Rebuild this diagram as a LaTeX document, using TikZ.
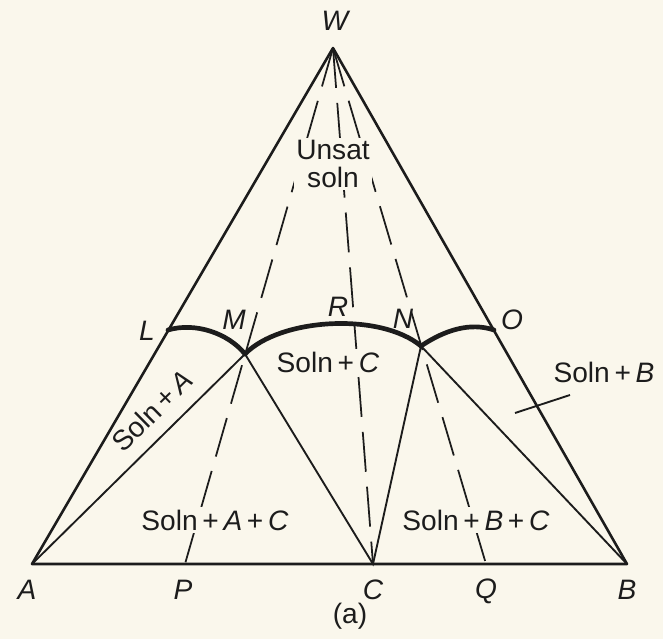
\documentclass[tikz,border=0pt]{standalone}
\usepackage{fontspec}
\setmainfont{Liberation Sans}
\usetikzlibrary{positioning}
\definecolor{paper}{RGB}{250,247,236}
\definecolor{ink}{RGB}{28,28,28}

\begin{document}
\begin{tikzpicture}[
    x=0.03cm, y=-0.03cm,
    color=ink,
    % Outline of the triangle
    side/.style={line width=2.2pt, line join=round},
    % Thin boundary lines of the fields
    edge/.style={line width=1.6pt},
    % Saturation curves (heavy)
    satcurve/.style={line width=4pt, line cap=round},
    % Dashed tie lines running to W
    tie/.style={line width=1.5pt, dash pattern=on 1.2cm off 0.45cm},
    % Point labels (italic letters)
    pt/.style={font=\fontsize{24}{28}\selectfont\itshape, inner sep=1pt},
    % Field labels, blanking the dashes below them
    field/.style={font=\fontsize{24}{28}\selectfont, fill=paper, inner sep=2pt, align=center}
]

    % --- Paper ---
    \fill[paper] (0,0) rectangle (663,639);
    \useasboundingbox (0,0) rectangle (663,639);

    % --- Corners and points ---
    \coordinate (W) at (333,48);
    \coordinate (A) at (32,564);
    \coordinate (B) at (627,564);
    \coordinate (C) at (373,564);
    \coordinate (P) at (185,564);
    \coordinate (Q) at (486,564);
    \coordinate (L) at (168,330);
    \coordinate (M) at (245,354);
    \coordinate (R) at (353,324);
    \coordinate (N) at (421,346);
    \coordinate (O) at (494,330);

    % Tie lines
    \draw[tie] (W) -- (P);
    \draw[tie] (W) -- (C);
    \draw[tie] (W) -- (Q);

    % Field boundaries
    \draw[edge] (A) -- (M) -- (C) -- (N) -- (B);

    % Triangle
    \draw[side] (A) -- (W) -- (B) -- cycle;

    % Saturation curves
    \draw[satcurve] (L) .. controls (195,322) and (228,333) .. (M);
    \draw[satcurve] (M) .. controls (280,318) and (380,312) .. (N);
    \draw[satcurve] (N) .. controls (445,330) and (470,322) .. (O);

    % --- Field labels ---
    \node[field] (unsat) at (333,164) {Unsat\\[-4pt]soln};
    \node[field] (fC) at (328,362) {Soln\,+\,\textit{C}};
    \node[field, fill=none, rotate=44.5] (fA) at (152,411) {Soln\,+\,\textit{A}};
    \node[field] (fAC) at (215,520) {Soln\,+\,\textit{A}\,+\,\textit{C}};
    \node[field] (fBC) at (476,520) {Soln\,+\,\textit{B}\,+\,\textit{C}};
    \node[field] (fB) at (604,372) {Soln\,+\,\textit{B}};
    \coordinate (tb1) at (515,413);
    \coordinate (tb2) at (570,395);
    \draw[edge] (tb1) -- (tb2);

    % --- Point labels ---
    \node[pt] (lW) at (335,21) {W};
    \node[pt] (lA) at (27,590) {A};
    \node[pt] (lP) at (183,590) {P};
    \node[pt] (lC) at (373,590) {C};
    \node[pt] (lQ) at (486,591) {Q};
    \node[pt] (lB) at (627,590) {B};
    \node[pt] (lL) at (147,331) {L};
    \node[pt] (lM) at (234,320) {M};
    \node[pt] (lR) at (338,307) {R};
    \node[pt] (lN) at (403,319) {N};
    \node[pt] (lO) at (512,320) {O};

    % Caption
    \node[font=\fontsize{24}{28}\selectfont] (cap) at (350,616) {(a)};

\end{tikzpicture}
\end{document}
